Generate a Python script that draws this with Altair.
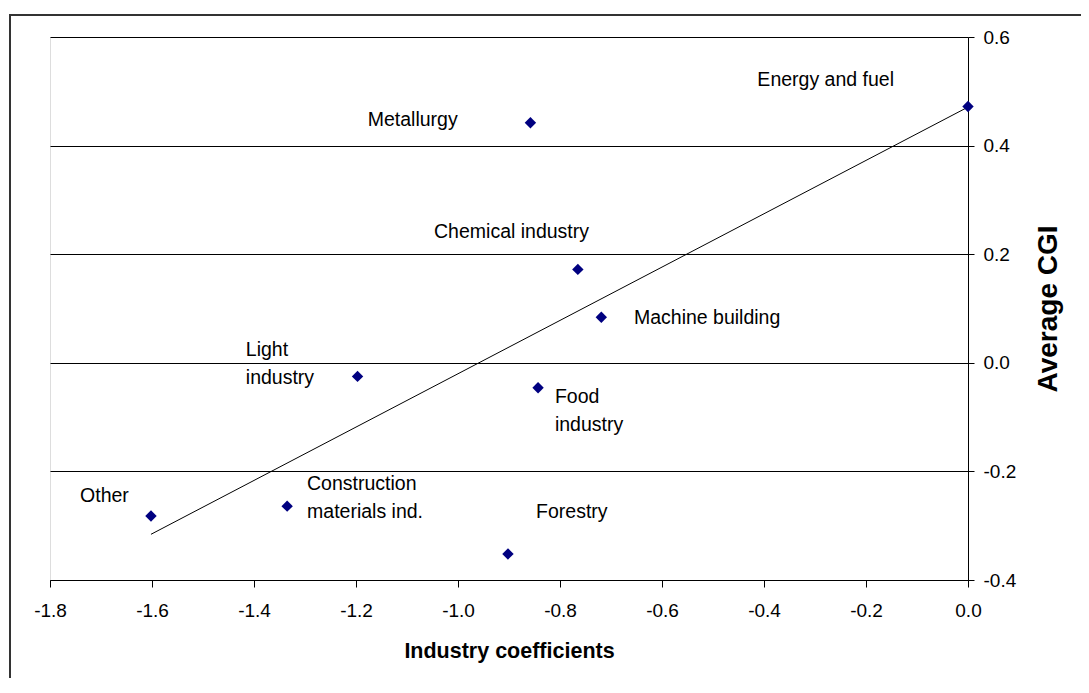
import altair as alt
import pandas as pd

# Point data
industries = ["Energy and fuel", "Metallurgy", "Chemical industry", "Machine building",
              "Light industry", "Food industry", "Construction materials ind.", "Other", "Forestry"]
coef = [0.0, -0.858, -0.765, -0.719, -1.197, -0.843, -1.335, -1.602, -0.902]
cgi = [0.472, 0.442, 0.172, 0.084, -0.025, -0.046, -0.264, -0.282, -0.352]

# Data-label texts and their anchor positions (data units, first line)
label_text = ["Energy and fuel", "Metallurgy", "Chemical industry", "Machine building",
              "Light\nindustry", "Food\nindustry", "Construction\nmaterials ind.", "Other", "Forestry"]
label_x = [-0.413, -1.177, -1.047, -0.655, -1.416, -0.810, -1.296, -1.741, -0.847]
label_y = [0.520, 0.447, 0.240, 0.082, 0.023, -0.063, -0.223, -0.245, -0.275]

x_ticks = [-1.8, -1.6, -1.4, -1.2, -1.0, -0.8, -0.6, -0.4, -0.2, 0.0]
y_ticks = [-0.4, -0.2, 0.0, 0.2, 0.4, 0.6]

FONT = "Liberation Sans"
W, H = 918, 543

pts = pd.DataFrame({"industry": industries, "x": coef, "y": cgi})
labs = pd.DataFrame({"text": label_text, "x": label_x, "y": label_y})

lab_expr = "replace(format(datum.value, '.1f'), '\u2212', '-')"

xenc = alt.X("x:Q", scale=alt.Scale(domain=[-1.8, 0.0], nice=False, zero=False),
             axis=alt.Axis(values=x_ticks, labelExpr=lab_expr, grid=False,
                           domainColor="black", tickColor="black", tickSize=7,
                           labelPadding=14, labelFontSize=19, labelFont=FONT, labelColor="black",
                           labelFlush=False,
                           title="Industry coefficients", titleFont=FONT, titleFontSize=21.5,
                           titleFontWeight="bold", titleColor="black",
                           titleY=71, titleBaseline="middle"))
yenc = alt.Y("y:Q", scale=alt.Scale(domain=[-0.4, 0.6], nice=False, zero=False),
             axis=alt.Axis(orient="right", values=y_ticks, labelExpr=lab_expr, grid=True,
                           gridColor="black", gridWidth=1,
                           domainColor="black", tickColor="black", tickSize=6,
                           labelPadding=9, labelFontSize=19, labelFont=FONT, labelColor="black",
                           labelFlush=False,
                           title="Average CGI", titleFont=FONT, titleFontSize=28,
                           titleFontWeight="bold", titleColor="black",
                           titleAngle=270, titleX=80, titleY=H / 2,
                           titleAlign="center", titleBaseline="middle"))

base = alt.Chart(pts)

trend = base.transform_regression("x", "y").mark_line(color="black", strokeWidth=1).encode(
    x=xenc, y=yenc)

points = base.mark_point(shape="diamond", filled=True, color="#000080", size=130,
                         opacity=1).encode(x=xenc, y=yenc)

texts = alt.Chart(labs).mark_text(align="left", baseline="middle", fontSize=19.5, font=FONT,
                                  color="black", lineBreak="\n", lineHeight=28).encode(
    x=xenc, y=yenc, text="text:N")

# outer chart frame (only its top and left edges fall inside the picture)
frame_data = alt.InlineData(values=[{"k": 1}])
frame = alt.Chart(frame_data).mark_rect(fill="transparent", stroke="#333333",
                                        strokeWidth=2).encode(
    x=alt.value(-40), x2=alt.value(1200), y=alt.value(-22), y2=alt.value(800))

chart = alt.layer(trend, points, texts, frame).properties(
    width=W, height=H,
    padding={"left": 42, "top": 29, "right": 113, "bottom": 98},
    autosize=alt.AutoSizeParams(type="none"),
).configure_view(stroke="#808080", strokeWidth=1).configure(background="white")

chart.save("out.html", embed_options={"renderer": "svg", "actions": False})
